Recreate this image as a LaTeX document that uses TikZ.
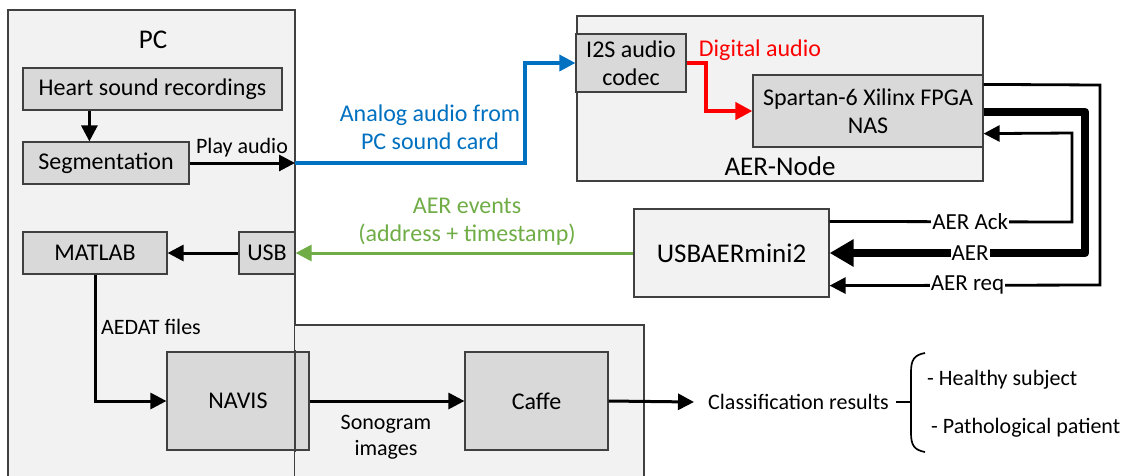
\documentclass[tikz,border=0pt]{standalone}
\usepackage{fontspec}
\setmainfont{Carlito}
\usetikzlibrary{arrows.meta,calc}
\definecolor{outerfill}{HTML}{F2F2F2}
\definecolor{innerfill}{HTML}{D9D9D9}
\definecolor{edgegray}{HTML}{404040}
\definecolor{myblue}{HTML}{0070C0}
\definecolor{mygreen}{HTML}{70AD47}
\definecolor{myred}{HTML}{FF0000}
\begin{document}
\begin{tikzpicture}[x=1pt,y=-1pt,
  font=\fontsize{24}{28}\selectfont,
  box/.style={draw=edgegray,line width=1.2pt,fill=innerfill,inner sep=0pt,align=center},
  container/.style={draw=edgegray,line width=1.2pt,fill=outerfill,inner sep=0pt},
  edgeline/.style={draw=edgegray,line width=1.2pt},
  title/.style={font=\fontsize{27}{30}\selectfont,inner sep=0pt},
  lbl/.style={font=\fontsize{22}{26}\selectfont,inner sep=1pt,align=center},
  wlbl/.style={font=\fontsize{23}{26}\selectfont,inner sep=1pt,fill=white},
  tip/.style={-{Triangle[length=16pt,width=16pt]}},
  arr/.style={line width=3pt,tip},
  plain/.style={line width=2.8pt},
  thickarr/.style={line width=8.5pt,line join=round,-{Triangle[length=24pt,width=26pt]}},
]
\useasboundingbox (0,0) rectangle (1131,475);
% containers
\fill[outerfill] (8,10) rectangle (295,477);
\draw[edgeline] (8,477) -- (8,10) -- (295,10) -- (295,477);
\fill[outerfill] (295,325) rectangle (644,477);
\draw[edgeline] (295,325) -- (644,325) -- (644,477);
\node[container,minimum width=406pt,minimum height=165pt] (aernode) at (780,98.5) {};
\node[title] (aerlabel) at (780,166) {AER-Node};
\node[title] (pclabel) at (153,40) {PC};

% boxes
\node[box,minimum width=259pt,minimum height=42pt] (heart) at (152.5,89) {Heart sound recordings};
\node[box,minimum width=166pt,minimum height=42pt] (seg) at (106,163) {Segmentation};
\node[box,minimum width=144pt,minimum height=42pt] (matlab) at (95,253) {MATLAB};
\node[box,minimum width=56pt,minimum height=42pt] (usb) at (267,253) {USB};
\node[box,minimum width=142pt,minimum height=98pt] (navis) at (238,401) {NAVIS};
\node[box,minimum width=143pt,minimum height=98pt] (caffe) at (536.5,401) {Caffe};
\node[box,minimum width=110pt,minimum height=58pt] (i2s) at (631,63) {I2S audio\\codec};
\node[box,minimum width=230pt,minimum height=72pt] (fpga) at (868,111) {Spartan-6 Xilinx FPGA\\NAS};
\node[box,fill=outerfill,minimum width=195pt,minimum height=88pt,font=\fontsize{27}{30}\selectfont] (usbaer) at (731.5,253) {USBAERmini2};
\draw[edgeline] (295,350) -- (295,452);

\coordinate (pcout) at (295,163);

% PC internal
\draw[arr] ($(heart.south west)+(67,0)$) -- ($(seg.north west)+(67,0)$);
\draw[arr] (seg.east) -- (pcout);
\node[lbl] (playlbl) at (242,148) {Play audio};
\draw[arr] (usb.west) -- (matlab.east);
\draw[arr] (matlab.south) |- (navis.west);
\node[lbl,anchor=west] (aedat) at (100,327) {AEDAT files};

% blue
\draw[myblue,line width=3.4pt,tip] (pcout) -| (525,63) -- (i2s.west);
\node[myblue,align=center,inner sep=0pt] (analog) at (430,127.5) {Analog audio from\\PC sound card};

% red
\draw[myred,line width=4pt,-{Triangle[length=17pt,width=17pt]}] (i2s.east) -- (706,63) |- (fpga.west);
\node[myred,inner sep=0pt] (digital) at (760,50) {Digital audio};

% green
\draw[mygreen,line width=3pt,tip] (usbaer.west) -- (usb.east);
\node[mygreen,align=center,inner sep=0pt] (aerev) at (467,221.5) {AER events\\(address + timestamp)};

% AER lines
\draw[plain,tip] ($(fpga.north east)+(0,10)$) -- (1100,85) -- (1100,285) -- node[wlbl,pos=0.49]{AER req} ($(usbaer.south east)+(0,-12)$);
\draw[thickarr] ($(fpga.east)+(0,1)$) -- (1085,112) -- (1085,253) -- node[wlbl,pos=0.45]{AER} (usbaer.east);
\draw[plain,tip] ($(usbaer.north east)+(0,13)$) -- node[wlbl,pos=0.58]{AER Ack} (1072,222) -- (1072,133) -- ($(fpga.south east)+(0,-14)$);

% bottom flow
\draw[arr] (navis.east) -- (caffe.west);
\node[lbl] (sono) at (386,437) {Sonogram\\images};
\node[lbl,inner sep=0pt,anchor=west] (class) at (708,402) {Classification results};
\draw[arr] (caffe.east) -- ([xshift=-14pt]class.west);
\draw[line width=1.4pt] ([xshift=7pt]class.east) -- ++(14,0);
\draw[line width=1.7pt] (925,353) .. controls (914,355) and (911,360) .. (911,372) -- (911,433) .. controls (911,445) and (914,450) .. (925,452);
\node[lbl,inner sep=0pt,anchor=west] (healthy) at (927,380) {- Healthy subject};
\node[lbl,inner sep=0pt,anchor=west] (patho) at (931,428) {- Pathological patient};
\end{tikzpicture}
\end{document}
